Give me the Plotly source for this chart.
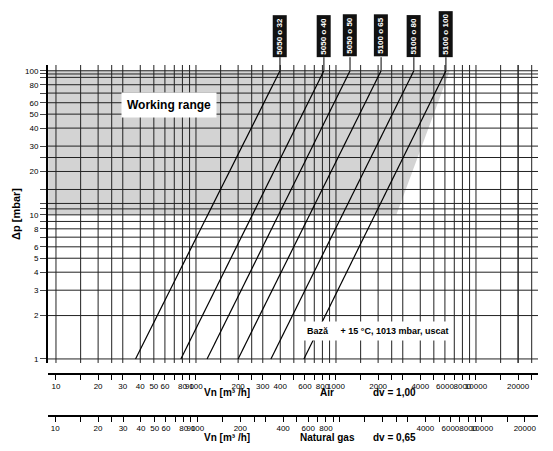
import math
import plotly.graph_objects as go

# flow at 1 mbar and at 100 mbar for each valve
valves = ["5050 o 32", "5050 o 40", "5050 o 50", "5100 o 65", "5100 o 80", "5100 o 100"]
v_bottom = [37, 78, 120, 200, 343, 590]
v_top = [398, 820, 1260, 2100, 3600, 6100]
dp_bottom = 1
dp_top = 100

# working range (grey area) corners
work_x = [8.8, 8.8, 6500, 2700]
work_y = [10, 100, 100, 10]

y_ticks = [1, 2, 3, 4, 5, 6, 8, 10, 20, 30, 40, 50, 60, 80, 100]
y_grid = [1, 2, 3, 4, 5, 6, 7, 8, 9, 10, 11, 12, 15, 20, 25, 30, 40, 50, 60, 70, 80, 90, 95, 100]
air_labels = [10, 20, 30, 40, 50, 60, 80, 90, 100, 200, 300, 400, 600, 800, 1000, 2000, 4000, 6000, 8000, 10000, 20000]
gas_labels = [10, 20, 30, 40, 50, 60, 80, 90, 100, 200, 400, 600, 800, 4000, 6000, 8000, 10000, 20000]
decade_ticks = [m * 10 ** k for k in range(1, 5) for m in [1, 1.5, 2, 2.5, 3, 4, 5, 6, 7, 8, 9]] + [20000]

xr = [0.943, 4.443]
yr = [-0.028, 2.04]
xmin, xmax = 10 ** xr[0], 10 ** xr[1]
ymin, ymax = 10 ** yr[0], 10 ** yr[1]

fig = go.Figure()

# grey working range first, grid on top of it
fig.add_trace(go.Scatter(x=work_x, y=work_y, fill="toself", fillcolor="#d3d3d3",
                         line=dict(width=0), mode="lines", hoverinfo="skip"))
gx, gy = [], []
for v in decade_ticks:
    gx += [v, v, None]
    gy += [ymin, ymax, None]
for v in y_grid:
    gx += [xmin, xmax, None]
    gy += [v, v, None]
fig.add_trace(go.Scatter(x=gx, y=gy, mode="lines", line=dict(color="#222", width=1),
                         hoverinfo="skip"))

for name, a, b in zip(valves, v_bottom, v_top):
    fig.add_trace(go.Scatter(x=[a, b], y=[dp_bottom, dp_top], mode="lines",
                             line=dict(color="black", width=1.2), name=name))
    fig.add_shape(type="line", xref="x", yref="paper", x0=b, x1=b, y0=0.987, y1=1.02,
                  line=dict(color="black", width=1))
    fig.add_annotation(x=math.log10(b), xref="x", y=1.02, yref="paper", yanchor="bottom",
                       text="<b>" + name + "</b>", textangle=-90, showarrow=False,
                       bgcolor="#111", borderpad=2,
                       font=dict(color="white", size=8, family="Liberation Sans"))

fig.add_trace(go.Scatter(x=[None], y=[None], xaxis="x2", showlegend=False))
fig.add_trace(go.Scatter(x=[None], y=[None], xaxis="x3", showlegend=False))

def fmt(vals, labels):
    return [str(v) if v in labels else "" for v in vals]

axfont = dict(family="Liberation Sans", size=8, color="black")
main_dom = [12 / 502, 1]
fig.update_layout(
    width=553, height=451, margin=dict(l=28, r=23, t=57, b=5),
    plot_bgcolor="white", paper_bgcolor="white", showlegend=False,
    font=dict(family="Liberation Sans", color="black"),
    xaxis=dict(type="log", range=xr, domain=main_dom, showticklabels=False, ticks="",
               showgrid=False, zeroline=False, showline=False, anchor="y", automargin=False),
    yaxis=dict(type="log", range=yr, domain=[0.234, 1], tickvals=y_grid,
               ticktext=[str(v) if v in y_ticks else "" for v in y_grid],
               showgrid=False, ticks="outside", ticklen=6, tickfont=axfont,
               showline=True, linecolor="black", linewidth=2, automargin=False,
               title=dict(text="<b>Δp [mbar]</b>", font=dict(size=11), standoff=2)),
    xaxis2=dict(type="log", range=xr, domain=main_dom, overlaying="x", anchor="free",
                position=0.206, tickvals=decade_ticks, ticktext=fmt(decade_ticks, air_labels),
                tickangle=0, ticks="outside", ticklen=5, tickcolor="black", tickfont=axfont,
                showline=True, linecolor="black", linewidth=2, showgrid=False, automargin=False),
    xaxis3=dict(type="log", range=[0.949, 4.394], domain=[0, 472 / 502],
                overlaying="x", anchor="free", position=0.098,
                tickvals=decade_ticks, ticktext=fmt(decade_ticks, gas_labels),
                tickangle=0, ticks="outside", ticklen=5, tickcolor="black", tickfont=axfont,
                showline=True, linecolor="black", linewidth=2, showgrid=False, automargin=False),
)

fig.add_annotation(x=0.17, xref="paper", y=0.93, yref="paper", text="<b>Working range</b>",
                   showarrow=False, bgcolor="white", borderpad=5,
                   font=dict(size=12, family="Liberation Sans"))
fig.add_annotation(x=0.83, xref="paper", y=0.29, yref="paper",
                   text="<b>Bază     + 15 °C, 1013 mbar, uscat</b>",
                   showarrow=False, bgcolor="white", borderpad=4,
                   font=dict(size=9, family="Liberation Sans"))
for ypos, gas, dv in [(0.139, "Air", "dv = 1,00"), (0.022, "Natural gas", "dv = 0,65")]:
    fig.add_annotation(x=0.33, xref="paper", y=ypos, yref="paper", text="<b>Vn [m³ /h]</b>",
                       showarrow=False, font=dict(size=10))
    fig.add_annotation(x=0.58, xref="paper", y=ypos, yref="paper", text="<b>" + gas + "</b>",
                       showarrow=False, font=dict(size=10))
    fig.add_annotation(x=0.76, xref="paper", y=ypos, yref="paper", text="<b>" + dv + "</b>",
                       showarrow=False, font=dict(size=10))

fig.write_html("out.html")
